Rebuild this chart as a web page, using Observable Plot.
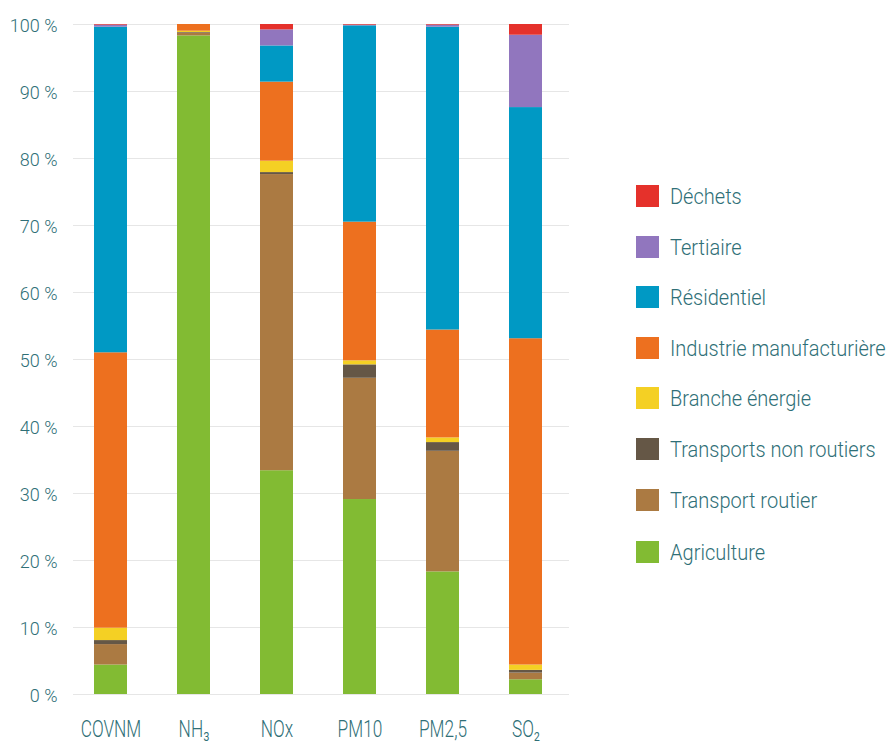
<!DOCTYPE html>
<html>
<head>
<meta charset="utf-8">
<script src="https://cdn.jsdelivr.net/npm/d3@7"></script>
<script src="https://cdn.jsdelivr.net/npm/@observablehq/plot@0.6"></script>
<style>
  html, body { margin: 0; padding: 0; background: #fff; }
  #wrap { position: relative; width: 888px; height: 742px; font-family: Roboto, sans-serif; }
  #chart { position: absolute; left: 0; top: 0; }
  #legend { position: absolute; left: 636px; top: 0; }
  .item { position: absolute; left: 0; height: 22px; width: 260px; }
  .sw { position: absolute; left: 0; top: 0; width: 23px; height: 22px; }
  .lb { position: absolute; left: 34px; top: 50%; white-space: nowrap; font-weight: 300; font-size: 22.5px;
        color: #2f6f77; transform: translateY(-50%) scaleX(0.89); transform-origin: left center; line-height: 1; }
</style>
</head>
<body>
<div id="wrap"><div id="chart"></div><div id="legend"></div></div>
<script>
const pollutants = ["COVNM", "NH\u2083", "NOx", "PM10", "PM2,5", "SO\u2082"];
const sectors = ["Agriculture", "Transport routier", "Transports non routiers", "Branche énergie",
                 "Industrie manufacturière", "Résidentiel", "Tertiaire", "Déchets"];
const colors = ["#82bb33", "#ab7a42", "#655746", "#f4d024", "#ed701f", "#0099c4", "#9176be", "#e5312b"];

const agriculture      = [4.4, 98.3, 33.4, 29.1, 18.3, 2.2];
const transportRoutier = [3.05, 0.4, 44.2, 18.1, 18.0, 1.0];
const transportsNonRoutiers = [0.6, 0.1, 0.3, 2.0, 1.3, 0.4];
const brancheEnergie   = [1.85, 0.2, 1.7, 0.6, 0.7, 0.8];
const industrie        = [41.1, 1.0, 11.8, 20.7, 16.1, 48.7];
const residentiel      = [48.6, 0, 5.4, 29.3, 45.2, 34.5];
const tertiaire        = [0.3, 0, 2.4, 0.1, 0.3, 10.8];
const dechets          = [0.1, 0, 0.8, 0.1, 0.1, 1.6];
const yTicks = [0, 10, 20, 30, 40, 50, 60, 70, 80, 90, 100];

const series = [agriculture, transportRoutier, transportsNonRoutiers, brancheEnergie,
                industrie, residentiel, tertiaire, dechets];
const data = [];
sectors.forEach((s, i) => pollutants.forEach((p, j) => data.push({pollutant: p, sector: s, value: series[i][j]})));

const textColor = "#2f6f77";

const chart = Plot.plot({
  width: 600,
  height: 742,
  marginLeft: 73,
  marginRight: 31,
  marginTop: 24,
  marginBottom: 48,
  style: {fontFamily: "Roboto, sans-serif", background: "#fff", overflow: "visible"},
  x: {domain: pollutants, paddingInner: 0.6, paddingOuter: 0.28, align: 0.44, label: null},
  y: {domain: [0, 100], label: null},
  color: {domain: sectors, range: colors},
  marks: [
    Plot.gridY(yTicks, {stroke: "#e6e6e6", strokeOpacity: 1, strokeWidth: 1.2}),
    Plot.barY(data, Plot.stackY({x: "pollutant", y: "value", fill: "sector", order: sectors})),
    Plot.axisY({ticks: yTicks, tickSize: 0, tickPadding: 16, tickFormat: d => d + "\u00a0%",
                fontSize: 18, fill: textColor, fontWeight: 300, dy: 2, label: null}),
    Plot.axisX({tickSize: 0, tickPadding: 25, fontSize: 24, fill: textColor, fontWeight: 300, label: null})
  ]
});
document.getElementById("chart").appendChild(chart);

chart.querySelectorAll('g[aria-label="x-axis tick label"] text').forEach(t => {
  const tr = t.getAttribute("transform") || "";
  t.setAttribute("transform", tr + " scale(0.72,1)");
});

const legendCenters = [196, 247, 297, 348, 398, 449, 500, 552];
const legend = document.getElementById("legend");
const legendOrder = sectors.slice().reverse();
legendOrder.forEach((s, i) => {
  const it = document.createElement("div");
  it.className = "item";
  it.style.top = (legendCenters[i] - 11) + "px";
  const sw = document.createElement("div");
  sw.className = "sw";
  sw.style.background = colors[sectors.indexOf(s)];
  const lb = document.createElement("div");
  lb.className = "lb";
  lb.textContent = s;
  it.appendChild(sw); it.appendChild(lb);
  legend.appendChild(it);
});
</script>
</body>
</html>
